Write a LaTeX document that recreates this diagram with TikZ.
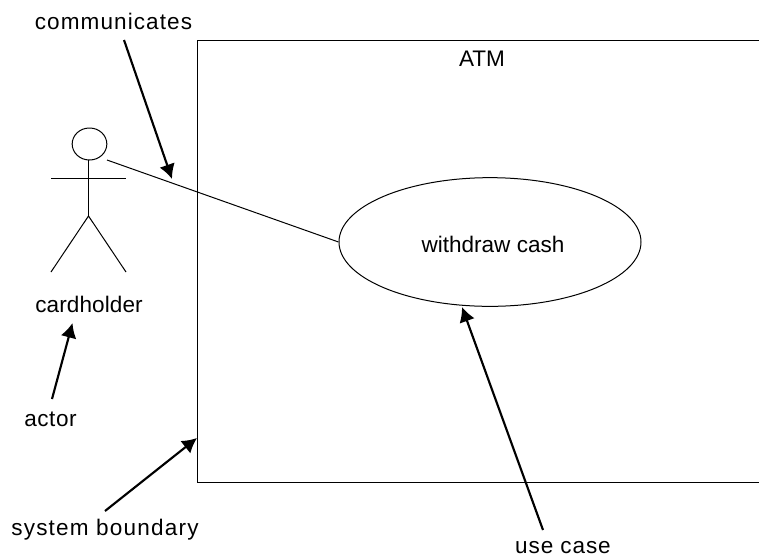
\documentclass[tikz,border=0pt]{standalone}
\usepackage{fontspec}
\setmainfont{Liberation Sans}
\usetikzlibrary{arrows.meta,shapes.geometric}
\newcommand{\spaced}[1]{\addfontfeatures{LetterSpace=#1}}
\tikzset{
  px/.style={x=0.75pt,y=-0.75pt},
  thin line/.style={draw=black,line width=0.75pt},
  label text/.style={font=\fontsize{16.9}{20}\selectfont,inner sep=0pt,anchor=base},
  pointer/.style={draw=black,line width=1.6pt,-{Latex[length=11pt,width=12pt]},shorten >=0pt}
}
\begin{document}
\begin{tikzpicture}[px]
\useasboundingbox (0,0) rectangle (759,557);
\fill[white] (0,0) rectangle (759,557);
% system boundary
\coordinate (bTR) at (759,40.5);
\coordinate (bTL) at (197.5,40.5);
\coordinate (bBL) at (197.5,482.5);
\coordinate (bBR) at (759,482.5);
\draw[thin line] (bTR) -- (bTL) -- (bBL) -- (bBR);
% use case
\node[ellipse,thin line,minimum width=226.5pt,minimum height=96.5pt,inner sep=0pt] (uc) at (490,242) {};
\node[label text] (wc) at (493,252) {withdraw cash};
% actor
\node[ellipse,thin line,minimum width=26pt,minimum height=24pt,inner sep=0pt] (head) at (89.5,144) {};
\coordinate (hip) at (88.5,216);
\coordinate (armL) at (51,178.5);
\coordinate (armR) at (126,178.5);
\coordinate (footL) at (51,272);
\coordinate (footR) at (126,272);
\coordinate (neck) at (88.5,160);
\draw[thin line] (neck) -- (hip);
\draw[thin line] (armL) -- (armR);
\draw[thin line] (footL) -- (hip) -- (footR);
% communication
\coordinate (commStart) at (107,160);
\draw[thin line] (commStart) -- (uc.west);
% labels
\node[label text] (lblComm) at (113.5,29.5) {\spaced{4.8}communicates};
\node[label text] (lblAtm) at (482,66.5) {ATM};
\node[label text] (lblCard) at (89,312) {\spaced{0.5}cardholder};
\node[label text] (lblActor) at (50.5,426.5) {\spaced{2.2}actor};
\node[label text] (lblSys) at (105,535.5) {\spaced{5.4}system boundary};
\node[label text] (lblUse) at (563,553.5) {\spaced{4}use case};
% pointers
\coordinate (commTail) at (124,40);
\coordinate (commTip) at (172,179);
\coordinate (actorTail) at (52,399);
\coordinate (actorTip) at (72.5,323);
\coordinate (sysTail) at (105,511);
\coordinate (sysTip) at (197,438);
\coordinate (useTail) at (543,530);
\coordinate (useTip) at (462,307);
\draw[pointer] (commTail) -- (commTip);
\draw[pointer] (actorTail) -- (actorTip);
\draw[pointer] (sysTail) -- (sysTip);
\draw[pointer] (useTail) -- (useTip);
\end{tikzpicture}
\end{document}
